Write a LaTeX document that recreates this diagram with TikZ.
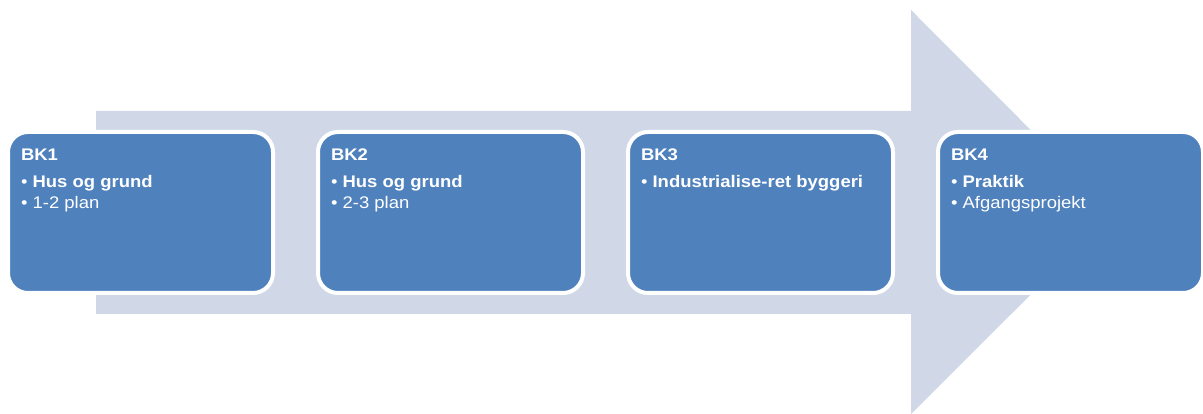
\documentclass[tikz,border=0pt]{standalone}
\usepackage{fontspec}
\setmainfont{Liberation Sans}[FakeStretch=1.1]
\usetikzlibrary{positioning}
\definecolor{boxblue}{HTML}{4F81BD}
\definecolor{arrowgray}{HTML}{D0D8E8}
\tikzstyle{stagebox} = [rectangle, rounded corners=20pt, minimum width=265pt, minimum height=161pt, fill=boxblue, draw=white, line width=4pt, outer sep=0pt, inner sep=0pt]
\tikzstyle{stagetext} = [anchor=north west, inner sep=0pt, outer sep=0pt, align=left, text=white, font=\fontsize{16.8}{21}\selectfont]

\begin{document}
\begin{tikzpicture}[x=1pt, y=1pt, node distance=45pt]
\useasboundingbox (0,0) rectangle (1203,414);
% big arrow behind the stages
\fill [arrowgray] (96,100) -- (96,303) -- (911,303) -- (911,404) -- (1113,201.5) -- (911,0) -- (911,100) -- cycle;
\node (bk1) [stagebox] at (140.5,201.5) {};
\node (bk2) [stagebox, right=of bk1] {};
\node (bk3) [stagebox, right=of bk2] {};
\node (bk4) [stagebox, right=of bk3] {};
\node (bk1text) [stagetext, below right=17pt and 13pt of bk1.north west] {\textbf{BK1}\\[6pt] • \textbf{Hus og grund}\\ • 1-2 plan};
\node (bk2text) [stagetext, below right=17pt and 13pt of bk2.north west] {\textbf{BK2}\\[6pt] • \textbf{Hus og grund}\\ • 2-3 plan};
\node (bk3text) [stagetext, below right=17pt and 13pt of bk3.north west] {\textbf{BK3}\\[6pt] • \textbf{Industrialise-ret byggeri}};
\node (bk4text) [stagetext, below right=17pt and 13pt of bk4.north west] {\textbf{BK4}\\[6pt] • \textbf{Praktik}\\ • Afgangsprojekt};
\end{tikzpicture}
\end{document}
